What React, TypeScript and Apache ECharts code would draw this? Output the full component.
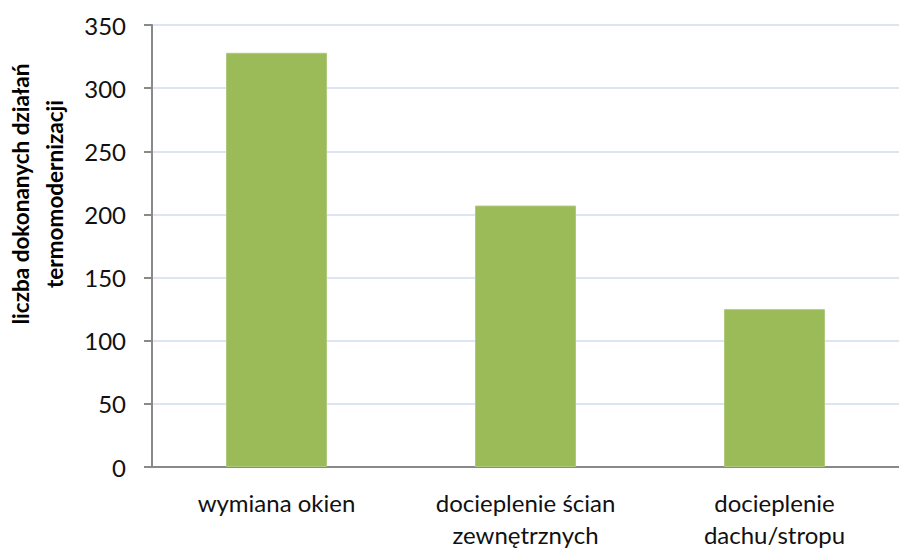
import React, { useEffect, useRef } from "react";
import * as echarts from "echarts";

const categories = ["wymiana okien", "docieplenie ścian\nzewnętrznych", "docieplenie\ndachu/stropu"];
const values = [328, 207, 125];
const yTitle = "liczba dokonanych działań\ntermomodernizacji";
const yMin = 0;
const yMax = 350;
const yStep = 50;

const FONT = "Lato, 'Open Sans', sans-serif";

export default function App() {
  const ref = useRef<HTMLDivElement>(null);
  useEffect(() => {
    if (!ref.current) return;
    const chart = echarts.init(ref.current, undefined, { renderer: "svg" });
    chart.setOption({
      animation: false,
      backgroundColor: "#ffffff",
      grid: { left: 152, top: 25, width: 759, height: 446, containLabel: false },
      xAxis: {
        type: "category",
        data: categories,
        axisLine: { show: true, lineStyle: { color: "#898989", width: 2 } },
        axisTick: { show: false },
        axisLabel: {
          color: "#111111",
          fontFamily: FONT,
          fontSize: 24,
          lineHeight: 32,
          margin: 19,
          interval: 0,
        },
        splitLine: { show: false },
      },
      yAxis: {
        type: "value",
        min: yMin,
        max: yMax,
        interval: yStep,
        axisLine: { show: true, lineStyle: { color: "#898989", width: 2 } },
        axisTick: { show: true, length: 8, lineStyle: { color: "#898989", width: 2 } },
        axisLabel: {
          color: "#111111",
          fontFamily: FONT,
          fontSize: 24,
          margin: 26,
        },
        splitLine: { show: true, lineStyle: { color: "#DCE5F2", width: 2 } },
      },
      series: [
        {
          type: "bar",
          data: values,
          barWidth: 101,
          itemStyle: { color: "#9BBB59", borderColor: "#AFC97C", borderWidth: 1 },
        },
      ],
      graphic: [
        {
          type: "text",
          x: 37,
          y: 194,
          rotation: Math.PI / 2,
          style: {
            text: yTitle,
            fontFamily: FONT,
            fontSize: 22.5,
            fontWeight: "bold",
            lineHeight: 34,
            fill: "#000000",
            align: "center",
            verticalAlign: "middle",
          },
        },
      ],
    });
    return () => chart.dispose();
  }, []);
  return (
    <div
      ref={ref}
      style={{ position: "absolute", left: 0, top: 0, width: 899, height: 550 }}
    />
  );
}
